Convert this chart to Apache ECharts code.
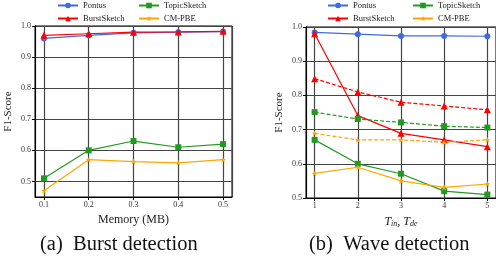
<!DOCTYPE html>
<html>
<head>
<meta charset="utf-8">
<script src="https://cdn.jsdelivr.net/npm/echarts@6/dist/echarts.min.js"></script>
<style>
  html, body { margin: 0; padding: 0; background: #fff; }
  #main { width: 496px; height: 266px; }
</style>
</head>
<body>
<div id="main"></div>
<script>
// (a) burst detection
var memory = [0.1, 0.2, 0.3, 0.4, 0.5];
var burstPontus = [0.96, 0.97, 0.978, 0.98, 0.982];
var burstBurstSketch = [0.97, 0.975, 0.98, 0.981, 0.983];
var burstTopicSketch = [0.51, 0.60, 0.63, 0.61, 0.62];
var burstCmPbe = [0.47, 0.57, 0.564, 0.56, 0.57];

// (b) wave detection
var tinTde = [1, 2, 3, 4, 5];
var wavePontus = [0.984, 0.979, 0.974, 0.974, 0.973];
var waveBurstSketch = [0.98, 0.741, 0.689, 0.67, 0.65];
var waveBurstSketchDash = [0.849, 0.81, 0.78, 0.769, 0.758];
var waveTopicSketch = [0.67, 0.60, 0.571, 0.52, 0.51];
var waveTopicSketchDash = [0.751, 0.731, 0.721, 0.71, 0.706];
var waveCmPbe = [0.572, 0.59, 0.55, 0.531, 0.541];
var waveCmPbeDash = [0.689, 0.67, 0.67, 0.663, 0.67];

var FONT = 'Liberation Serif';
var BLUE = '#4169e1', RED = '#ff0000', GREEN = '#229a22', ORANGE = '#ffa500';
var STAR = 'path://M50,0 L61,35 L98,35 L68,57 L79,91 L50,70 L21,91 L32,57 L2,35 L39,35 Z';

function pairs(xs, ys) {
    return xs.map(function (x, i) { return [x, ys[i]]; });
}

function mk(name, xs, ys, idx, color, symbol, size, dashed) {
    return {
        name: name,
        type: 'line',
        xAxisIndex: idx,
        yAxisIndex: idx,
        data: pairs(xs, ys),
        symbol: symbol,
        symbolSize: size,
        color: color,
        lineStyle: { color: color, width: 1.2, type: dashed ? [4, 2] : 'solid' },
        itemStyle: { color: color },
        z: 5
    };
}

var gridLine = { show: true, lineStyle: { color: '#444', width: 1.2 } };
var axisLbl = { fontFamily: FONT, fontSize: 8, color: '#333', margin: 4 };
var axisLn = { show: true, onZero: false, lineStyle: { color: '#000', width: 1 } };
var tick = { show: true, length: 3, lineStyle: { color: '#000' } };

function xAx(idx, min, max, nameText) {
    return {
        type: 'value', gridIndex: idx, min: min, max: max,
        axisLine: axisLn, axisTick: tick, splitLine: gridLine,
        axisLabel: Object.assign({ showMinLabel: false, showMaxLabel: false }, axisLbl),
        name: nameText, nameLocation: 'middle', nameGap: 16,
        nameTextStyle: { fontFamily: FONT, fontSize: 12, color: '#222' }
    };
}

function yAx(idx, min) {
    return {
        type: 'value', gridIndex: idx, min: min, max: 1.0,
        axisLine: axisLn, axisTick: tick, splitLine: gridLine,
        axisLabel: Object.assign({ showMinLabel: min === 0.5, formatter: function (v) { return v.toFixed(1); } }, axisLbl),
        name: 'F1-Score', nameLocation: 'middle', nameGap: 21,
        nameTextStyle: { fontFamily: FONT, fontSize: 11, color: '#222' }
    };
}

function legend(names, left) {
    return {
        data: names, orient: 'vertical', left: left, top: 1,
        itemWidth: 20, itemHeight: 7, itemGap: 4, padding: 0,
        textStyle: { fontFamily: FONT, fontSize: 8.5, color: '#222' },
        selectedMode: false
    };
}

var chart = echarts.init(document.getElementById('main'));
chart.setOption({
    backgroundColor: '#fff',
    animation: false,
    legend: [
        legend(['Pontus', 'BurstSketch'], 57),
        legend(['TopicSketch', 'CM-PBE'], 138),
        legend(['Pontus', 'BurstSketch'], 327),
        legend(['TopicSketch', 'CM-PBE'], 412)
    ],
    grid: [
        { left: 35, width: 197, top: 26, height: 171, show: true, borderColor: '#000', borderWidth: 1 },
        { left: 306, width: 198, top: 27, height: 171, show: true, borderColor: '#000', borderWidth: 1 }
    ],
    xAxis: [
        xAx(0, 0.08, 0.52, 'Memory (MB)'),
        Object.assign(xAx(1, 0.8, 5.2, ''), {
            name: '{i|T}{s|in}{i|, T}{s|de}',
            nameGap: 16,
            nameTextStyle: {
                rich: {
                    i: { fontFamily: FONT, fontStyle: 'italic', fontSize: 12, color: '#222', lineHeight: 14, verticalAlign: 'bottom' },
                    s: { fontFamily: FONT, fontStyle: 'italic', fontSize: 8, color: '#222', lineHeight: 14, verticalAlign: 'bottom', padding: [5, 0, 0, 0] }
                }
            }
        })
    ],
    yAxis: [yAx(0, 0.45), yAx(1, 0.5)],
    series: [
        mk('Pontus', memory, burstPontus, 0, BLUE, 'circle', 6),
        mk('BurstSketch', memory, burstBurstSketch, 0, RED, 'triangle', 7),
        mk('TopicSketch', memory, burstTopicSketch, 0, GREEN, 'rect', 6),
        mk('CM-PBE', memory, burstCmPbe, 0, ORANGE, STAR, 6),

        mk('Pontus', tinTde, wavePontus, 1, BLUE, 'circle', 6),
        mk('BurstSketch', tinTde, waveBurstSketch, 1, RED, 'triangle', 7),
        mk('BurstSketch-dash', tinTde, waveBurstSketchDash, 1, RED, 'triangle', 7, true),
        mk('TopicSketch', tinTde, waveTopicSketch, 1, GREEN, 'rect', 6),
        mk('TopicSketch-dash', tinTde, waveTopicSketchDash, 1, GREEN, 'rect', 6, true),
        mk('CM-PBE', tinTde, waveCmPbe, 1, ORANGE, STAR, 6),
        mk('CM-PBE-dash', tinTde, waveCmPbeDash, 1, ORANGE, STAR, 6, true)
    ],
    graphic: [
        { type: 'text', left: 40, top: 234, style: { text: '(a)  Burst detection', font: '20.5px "Liberation Serif"', fill: '#111' } },
        { type: 'text', left: 309, top: 234, style: { text: '(b)  Wave detection', font: '20.5px "Liberation Serif"', fill: '#111' } }
    ]
});
</script>
</body>
</html>
